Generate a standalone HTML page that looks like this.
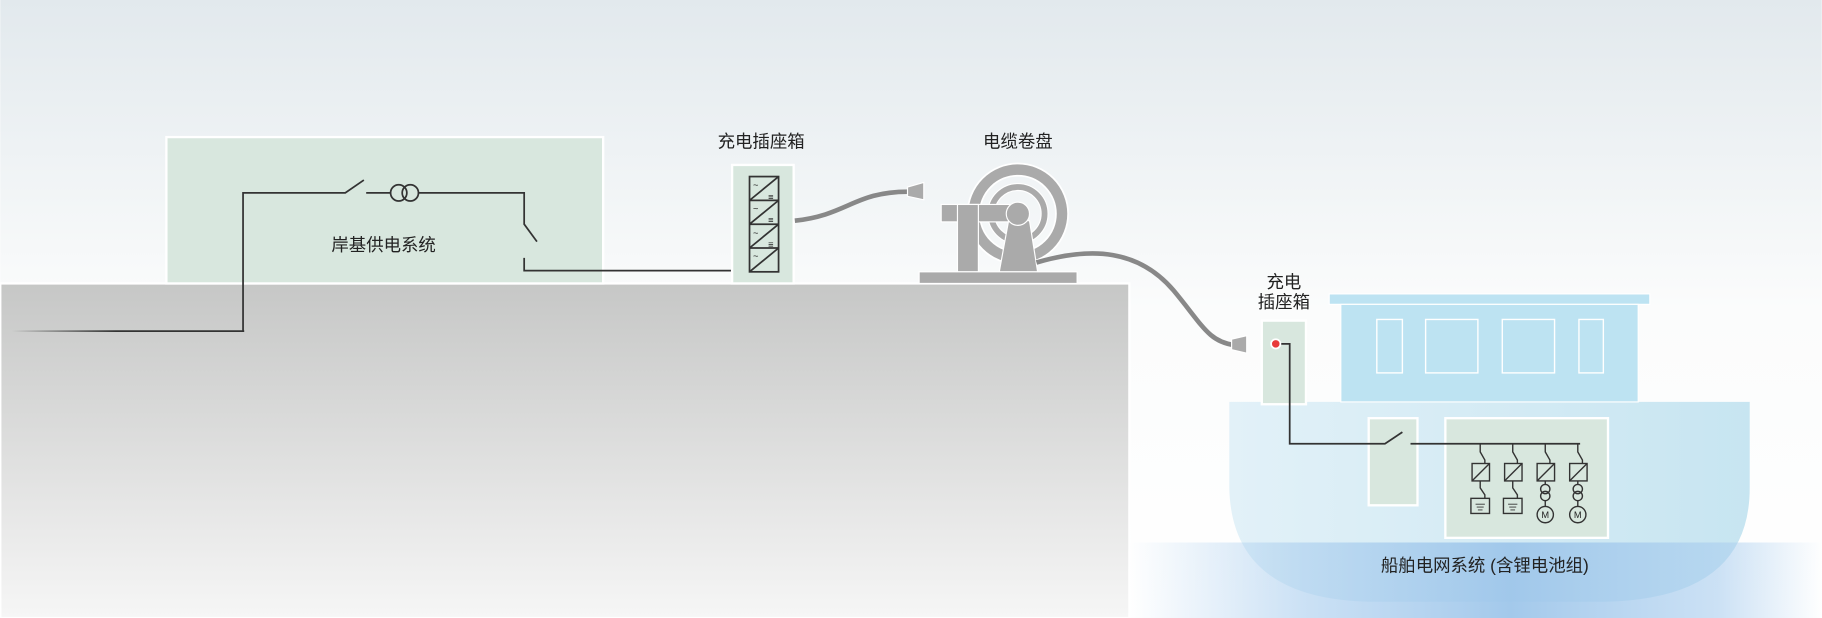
<!DOCTYPE html>
<html><head><meta charset="utf-8"><style>
html,body{margin:0;padding:0;background:#fff}
svg{display:block}
text{font-family:"Liberation Sans","Noto Sans CJK SC",sans-serif;fill:#222}
</style></head><body>
<svg width="1822" height="618" viewBox="0 0 1568 532" xmlns="http://www.w3.org/2000/svg">
<defs>
<linearGradient id="sky" x1="0" y1="0" x2="0" y2="1"><stop offset="0" stop-color="#e2e9ed"/><stop offset="0.5" stop-color="#fbfcfc"/><stop offset="1" stop-color="#ffffff"/></linearGradient>
<linearGradient id="gnd" x1="0" y1="0" x2="0" y2="1"><stop offset="0" stop-color="#c6c7c6"/><stop offset="1" stop-color="#f6f6f6"/></linearGradient>
<linearGradient id="gline" gradientUnits="userSpaceOnUse" x1="10" y1="0" x2="210" y2="0"><stop offset="0" stop-color="#333" stop-opacity="0"/><stop offset="0.45" stop-color="#333"/></linearGradient>
<linearGradient id="hull" x1="0" y1="0" x2="1" y2="0"><stop offset="0" stop-color="#e2f1f8"/><stop offset="1" stop-color="#c7e5f1"/></linearGradient>
<linearGradient id="water" x1="0" y1="0" x2="1" y2="0"><stop offset="0" stop-color="#a9cdee" stop-opacity="0"/><stop offset="0.25" stop-color="#a9cdee" stop-opacity="0.6"/><stop offset="0.55" stop-color="#9ec6ea" stop-opacity="0.95"/><stop offset="0.85" stop-color="#a9cdee" stop-opacity="0.6"/><stop offset="1" stop-color="#a9cdee" stop-opacity="0"/></linearGradient>
</defs>
<rect width="1568" height="532" fill="url(#sky)"/>
<!-- ground -->
<rect x="0" y="244" width="972" height="288" fill="url(#gnd)" stroke="#fff" stroke-width="2"/>
<!-- shore box -->
<rect x="143" y="118" width="376" height="126" fill="#d8e7de" stroke="#fff" stroke-width="2"/>
<text x="330" y="216" font-size="15" text-anchor="middle">岸基供电系统</text>
<path d="M10 285 H210" fill="none" stroke="url(#gline)" stroke-width="1.5"/>
<g fill="none" stroke="#333" stroke-width="1.5">
<path d="M209 285.7 V166 H297 L313 155"/>
<path d="M315 166 H336"/>
<circle cx="343" cy="166" r="7"/><circle cx="353" cy="166" r="7"/>
<path d="M360 166 H451 V193 L462 208"/>
<path d="M451 222 V233 H630"/>
</g>
<!-- shore charging box -->
<text x="655" y="127" font-size="15" text-anchor="middle">充电插座箱</text>
<rect x="630" y="142" width="53" height="102" fill="#d8e7de" stroke="#fff" stroke-width="2"/>
<g fill="none" stroke="#333" stroke-width="1.5">
<rect x="645" y="152" width="25" height="82"/>
<path d="M645 172.5H670M645 193H670M645 213.5H670"/>
<path d="M645 172.5L670 152M645 193L670 172.5M645 213.5L670 193M645 234L670 213.5"/>
</g>
<g font-size="8" fill="#333"><text x="648" y="162">~</text><text x="648" y="182">~</text><text x="648" y="203">~</text><text x="648" y="223">~</text>
<text x="661" y="172">≡</text><text x="661" y="192">≡</text><text x="661" y="213">≡</text></g>
<!-- cable 1 -->
<path d="M684 190 C730 185 735 165 782 165" fill="none" stroke="#888" stroke-width="4"/>
<path d="M781 161 L795 157 V172 L781 169 Z" fill="#aaa" stroke="#fff" stroke-width="1"/>
<!-- reel -->
<text x="876" y="127" font-size="15" text-anchor="middle">电缆卷盘</text>
<g stroke="#fff" stroke-width="1">
<circle cx="876" cy="184" r="38" fill="none" stroke="#fff" stroke-width="12"/>
<circle cx="876" cy="184" r="38" fill="none" stroke="#aaa" stroke-width="9"/>
<circle cx="876" cy="184" r="23" fill="none" stroke="#fff" stroke-width="7"/>
<circle cx="876" cy="184" r="23" fill="none" stroke="#aaa" stroke-width="5"/>
<rect x="810" y="176" width="60" height="15" fill="#aaa"/>
<rect x="824" y="176" width="18" height="58" fill="#aaa"/>
<path d="M868 190 H886 L893 234 H860 Z" fill="#aaa"/>
<circle cx="876" cy="184" r="10" fill="#aaa"/>
<rect x="791" y="234" width="136" height="10" fill="#aaa"/>
</g>
<path d="M892 226 C940 212 980 215 1010 250 C1035 280 1040 294 1062 297" fill="none" stroke="#888" stroke-width="4"/>
<path d="M1060 292 L1073 289 V304 L1060 301 Z" fill="#aaa" stroke="#fff" stroke-width="1"/>
<!-- ship -->
<path d="M1058 346 H1506 V420 Q1506 516 1380 518 H1180 Q1060 516 1058 420 Z" fill="url(#hull)"/>
<rect x="1144" y="253" width="276" height="9" fill="#bde3f2" stroke="#fff" stroke-width="1"/>
<rect x="1154" y="262" width="256" height="84" fill="#bde3f2" stroke="#fff" stroke-width="1"/>
<g fill="none" stroke="#fff" stroke-width="1.2">
<rect x="1185" y="275" width="22" height="46"/><rect x="1227" y="275" width="45" height="46"/>
<rect x="1293" y="275" width="45" height="46"/><rect x="1359" y="275" width="21" height="46"/>
</g>
<text x="1105" y="248" font-size="15" text-anchor="middle">充电</text>
<text x="1105" y="265" font-size="15" text-anchor="middle">插座箱</text>
<rect x="1086" y="276" width="38" height="72" fill="#d8e7de" stroke="#fff" stroke-width="2"/>
<rect x="1178" y="360" width="42" height="75" fill="#d8e7de" stroke="#fff" stroke-width="2"/>
<rect x="1244" y="360" width="140" height="103" fill="#d8e7de" stroke="#fff" stroke-width="2"/>
<g fill="none" stroke="#333" stroke-width="1.5">
<path d="M1102 296 H1110 V382 H1192 L1207 372"/>
<path d="M1214 382 H1360"/>
</g>
<circle cx="1098" cy="296" r="4" fill="#e83a3a" stroke="#fff" stroke-width="1.5"/>
<g fill="none" stroke="#333" stroke-width="1.2">
<g id="col">
<path d="M1274 382 V389 L1278 396 V399"/>
<rect x="1267" y="399" width="15" height="15"/><path d="M1267 414 L1282 399"/>
</g>
<use href="#col" x="28"/><use href="#col" x="56"/><use href="#col" x="84"/>
<path d="M1274 414 V420 L1278 426 V429"/><rect x="1266" y="429" width="16" height="13"/>
<path d="M1302 414 V420 L1306 426 V429"/><rect x="1294" y="429" width="16" height="13"/>
<path d="M1330 414 V417"/><circle cx="1330" cy="421" r="4"/><circle cx="1330" cy="427" r="4"/><path d="M1330 431 V436"/><circle cx="1330" cy="443" r="7"/>
<path d="M1358 414 V417"/><circle cx="1358" cy="421" r="4"/><circle cx="1358" cy="427" r="4"/><path d="M1358 431 V436"/><circle cx="1358" cy="443" r="7"/>
<path d="M1270 434H1278M1271 436.5H1277M1272 439H1276M1298 434H1306M1299 436.5H1305M1300 439H1304" stroke-width="0.8"/>
</g>
<g font-size="8" fill="#333" text-anchor="middle"><text x="1330" y="446">M</text><text x="1358" y="446">M</text></g>
<!-- water -->
<rect x="972" y="467" width="596" height="65" fill="url(#water)"/>
<text x="1278" y="492" font-size="15" text-anchor="middle">船舶电网系统 (含锂电池组)</text>
</svg>
</body></html>
